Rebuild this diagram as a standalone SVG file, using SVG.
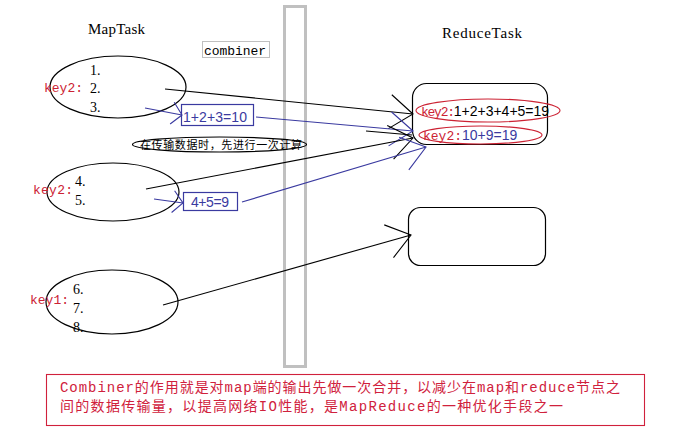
<svg xmlns="http://www.w3.org/2000/svg" width="700" height="447" viewBox="0 0 700 447">
<style>
.ell{fill:none;stroke:#000;stroke-width:1.2}
.num{font-family:"Liberation Serif",serif;font-size:14px;fill:#000}
.key{font-family:"Liberation Mono",monospace;font-size:13px;fill:#cc2233}
.hd{font-family:"Liberation Serif",serif;font-size:15px;fill:#000}
.cbx{fill:none;stroke:#3a3aa0;stroke-width:1.2}
.ctx{font-family:"Liberation Sans",Arial,sans-serif;font-size:14px;fill:#3a3aa0}
.k{fill:none;stroke:#000;stroke-width:1.1}
.b{fill:none;stroke:#3a3aa0;stroke-width:1.1}
.note{font-family:"Liberation Mono","Noto Sans CJK SC",monospace;font-size:14px;fill:#d0213c}
</style>
<defs>
<marker id="bigK" markerUnits="userSpaceOnUse" markerWidth="30" markerHeight="40" viewBox="0 0 30 40" refX="23" refY="17" orient="auto" overflow="visible"><path d="M0,0 L23,17 L0,34" fill="none" stroke="#000" stroke-width="1.1"/></marker>
<marker id="bigB" markerUnits="userSpaceOnUse" markerWidth="30" markerHeight="40" viewBox="0 0 30 40" refX="23" refY="17" orient="auto" overflow="visible"><path d="M0,0 L23,17 L0,34" fill="none" stroke="#3a3aa0" stroke-width="1.1"/></marker>
<marker id="smB" markerUnits="userSpaceOnUse" markerWidth="14" markerHeight="24" viewBox="0 0 14 24" refX="10" refY="11" orient="auto" overflow="visible"><path d="M0,0 L10,11 L0,22" fill="none" stroke="#3a3aa0" stroke-width="1.1"/></marker>
</defs>
<rect width="700" height="447" fill="#fff"/>

<g id="combiner-column">
<rect x="284.5" y="6.5" width="21" height="360" fill="none" stroke="#c0c0c0" stroke-width="3"/>
</g>

<g id="titles">
<text class="hd" x="88" y="34" textLength="57">MapTask</text>
<text class="hd" x="442" y="38" textLength="80">ReduceTask</text>
</g>

<g id="combiner-label">
<rect x="202.5" y="41.5" width="67" height="16" fill="none" stroke="#c0c0c0" stroke-width="1"/>
<text x="204" y="55" font-family="Liberation Mono,monospace" font-size="13" textLength="62">combiner</text>
</g>

<g id="map1">
<ellipse class="ell" cx="118" cy="87" rx="68" ry="31"/>
<text class="key" x="44" y="92" textLength="39">key2:</text>
<text class="num" x="90" y="75">1.</text>
<text class="num" x="90" y="93">2.</text>
<text class="num" x="90" y="112">3.</text>
</g>

<g id="map2">
<ellipse class="ell" cx="113" cy="192" rx="66" ry="29"/>
<text class="key" x="33" y="194" textLength="40">key2:</text>
<text class="num" x="75" y="186">4.</text>
<text class="num" x="75" y="205">5.</text>
</g>

<g id="map3">
<ellipse class="ell" cx="112" cy="302" rx="66" ry="32"/>
<text class="key" x="30" y="304" textLength="39">key1:</text>
<text class="num" x="73" y="294">6.</text>
<text class="num" x="73" y="313">7.</text>
<text class="num" x="73" y="332">8.</text>
</g>

<g id="comb1">
<rect class="cbx" x="181.5" y="104.5" width="72" height="21"/>
<text class="ctx" x="183" y="122" textLength="64">1+2+3=10</text>
</g>

<g id="comb2">
<rect class="cbx" x="183.5" y="192.5" width="54" height="18"/>
<text class="ctx" x="191" y="207" textLength="38">4+5=9</text>
</g>

<g id="hint">
<ellipse class="ell" cx="219.5" cy="144.5" rx="87" ry="7.5" stroke-width="1"/>
<text x="140" y="148.5" font-family="Noto Sans CJK SC,sans-serif" font-size="11" textLength="162" fill="#000">在传输数据时，先进行一次计算</text>
</g>

<g id="reduce1">
<rect x="412.5" y="83.5" width="135" height="61" rx="14" ry="14" fill="none" stroke="#000" stroke-width="1.2"/>
<ellipse cx="488" cy="110.5" rx="72" ry="11.5" fill="none" stroke="#cc2233" stroke-width="1.1"/>
<text x="421" y="116"><tspan class="key" textLength="34">key2:</tspan><tspan font-family="Liberation Sans,sans-serif" font-size="14" fill="#000">1+2+3+4+5=19</tspan></text>
<ellipse cx="480.5" cy="135" rx="61.5" ry="9" fill="none" stroke="#cc2233" stroke-width="1.1"/>
<text x="423" y="140"><tspan class="key">key2:</tspan><tspan font-family="Liberation Sans,sans-serif" font-size="14" fill="#3a3aa0">10+9=19</tspan></text>
</g>

<g id="reduce2">
<rect x="408.5" y="207.5" width="137" height="58" rx="12" ry="12" fill="none" stroke="#000" stroke-width="1.2"/>
</g>

<g id="connectors">
<path class="k" d="M165,89 L413,114" marker-end="url(#bigK)"/>
<path class="b" d="M256,117 L413,131" marker-end="url(#bigB)"/>
<path class="k" d="M366,131 L412,135"/>
<path class="k" d="M146,189 L413,138" marker-end="url(#bigK)"/>
<path class="b" d="M242,202 L426,147" marker-end="url(#bigB)"/>
<path class="k" d="M163,305 L411,235" marker-end="url(#bigK)"/>
<path class="b" d="M145,108 L182,115" marker-end="url(#smB)"/>
<path class="b" d="M154,199 L183,203" marker-end="url(#smB)"/>
</g>

<g id="note">
<rect x="46.5" y="374.5" width="598" height="51" fill="none" stroke="#d0213c" stroke-width="1.1"/>
<text class="note" x="60" y="392" textLength="560">Combiner的作用就是对map端的输出先做一次合并，以减少在map和reduce节点之</text>
<text class="note" x="60" y="411" textLength="503">间的数据传输量，以提高网络IO性能，是MapReduce的一种优化手段之一</text>
</g>
</svg>
